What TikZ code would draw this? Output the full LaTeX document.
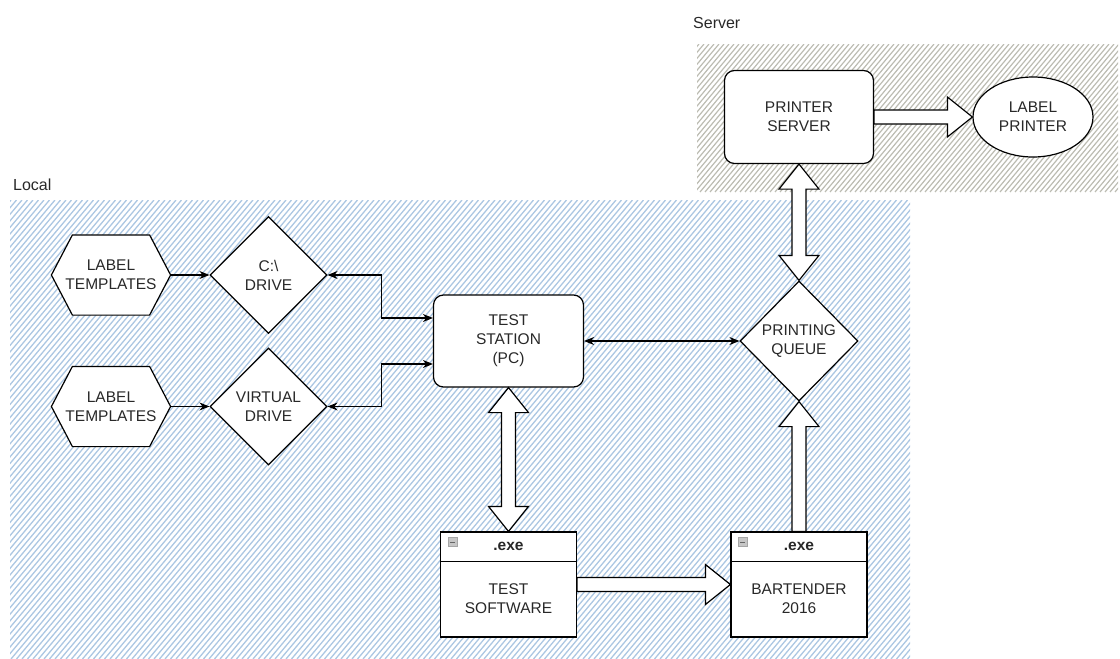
\documentclass[tikz,border=0pt]{standalone}
\usepackage{fontspec}
\setmainfont{Liberation Sans}
\usetikzlibrary{shapes.geometric,arrows.meta,calc}
\pgfdeclarelayer{hatch}
\pgfdeclarelayer{under}
\pgfsetlayers{hatch,under,main}
\definecolor{txt}{RGB}{40,40,40}
\definecolor{hblue}{RGB}{172,199,226}
\definecolor{hgray}{RGB}{188,188,178}
\newcommand{\blkVD}[2]{%
  \filldraw[blockarrow] (#1) -- ++(20,25) -- ++(-13,0) -- ($(#2)+(7,-25)$) -- ++(13,0) -- (#2)
    -- ++(-20,-25) -- ++(13,0) -- ($(#1)+(-7,25)$) -- ++(-13,0) -- cycle;}
\newcommand{\blkUp}[2]{%
  \filldraw[blockarrow] (#1) -- ++(20,25) -- ++(-13,0) -- ($(#2)+(7,0)$) -- ++(-14,0)
    -- ($(#1)+(-7,25)$) -- ++(-13,0) -- cycle;}
\newcommand{\blkRight}[2]{%
  \filldraw[blockarrow] ($(#1)+(0,-7)$) -- ($(#2)+(-25,-7)$) -- ++(0,-13) -- (#2)
    -- ++(-25,20) -- ++(0,-13) -- ($(#1)+(0,7)$) -- cycle;}
\tikzset{
  basefont/.style={font=\fontsize{15.5}{19}\selectfont},
  box/.style={draw=black, line width=1.2pt, fill=white, text=txt, align=center, basefont, inner sep=0pt},
  rbox/.style={box, rounded corners=10pt, minimum width=150pt, minimum height=92pt},
  dia/.style={box, diamond, aspect=1, minimum width=117pt, minimum height=117pt},
  hexbox/.style={box, draw=none, fill=none, minimum width=118pt, minimum height=79pt},
  exebox/.style={box, minimum width=136pt, minimum height=105pt},
  exehead/.style={text=txt, font=\bfseries\fontsize{15.5}{19}\selectfont, inner sep=0pt},
  exebody/.style={text=txt, align=center, basefont, inner sep=0pt},
  ellbox/.style={box, ellipse, minimum width=120pt, minimum height=80pt},
  hexline/.style={draw=black, line width=1.2pt, fill=white, line join=miter},
  blockarrow/.style={draw=black, line width=1.2pt, fill=white, line join=miter},
  conn/.style={draw=black, line width=1.1pt, {Stealth[length=10pt,width=8pt]}-{Stealth[length=10pt,width=8pt]}},
  conn1/.style={draw=black, line width=1.1pt, -{Stealth[length=10pt,width=8pt]}},
  region/.style={text=txt, font=\fontsize{16}{19}\selectfont, inner sep=0pt},
  icon/.style={draw=gray!70, fill=gray!45, line width=0.6pt},
}
\begin{document}
\begin{tikzpicture}[x=1pt,y=-1pt]
\useasboundingbox (0,0) rectangle (1120,659);

% hatched regions
\begin{pgfonlayer}{hatch}
  \begin{scope}
    \clip (10,200) rectangle (910,659);
    \foreach \i in {-385,-379.5,...,915} \draw[hblue, line width=1.3pt] (\i,659) -- ++(385,-459);
  \end{scope}
  \begin{scope}
    \clip (697,44) rectangle (1118,192);
    \foreach \i in {570,575,...,1120} \draw[hgray, line width=1.2pt] (\i,192) -- ++(124,-148);
  \end{scope}
\end{pgfonlayer}

% region labels
\node[region, anchor=base west] (loclbl) at (13,190) {Local};
\node[region, anchor=base west] (srvlbl) at (693,28) {Server};

% nodes
\node[hexbox] (h1) at (111,275) {LABEL\\TEMPLATES};
\node[hexbox] (h2) at (111,406.5) {LABEL\\TEMPLATES};
\node[dia] (cd) at (268.5,275) {C:\textbackslash\\DRIVE};
\node[dia] (vd) at (268.5,406.5) {VIRTUAL\\DRIVE};
\node[rbox] (ts) at (508.5,341) {TEST\\STATION\\(PC)};
\node[dia, minimum width=118pt, minimum height=120pt] (pq) at (799,341) {PRINTING\\QUEUE};
\node[rbox, minimum width=149pt, minimum height=93pt] (ps) at (799,117) {PRINTER\\SERVER};
\node[ellbox] (lp) at (1033,117) {LABEL\\PRINTER};
\node[exebox] (tsw) at (508.5,584.5) {};
\node[exebox] (bt) at (799,584.5) {};

\begin{pgfonlayer}{under}
  \foreach \h in {h1,h2}{
    \filldraw[hexline] (\h.west) -- ($(\h.north west)+(21,0)$) -- ($(\h.north east)+(-21,0)$)
      -- (\h.east) -- ($(\h.south east)+(-21,0)$) -- ($(\h.south west)+(21,0)$) -- cycle;}
\end{pgfonlayer}

% .exe boxes content
\foreach \b/\t [count=\k] in {tsw/{TEST\\SOFTWARE}, bt/{BARTENDER\\2016}}{
  \draw[line width=1.2pt] ($(\b.north west)+(0,30)$) -- ($(\b.north east)+(0,30)$);
  \filldraw[icon] ($(\b.north west)+(8,6)$) rectangle ++(9,9);
  \draw[gray!80!black, line width=0.8pt] ($(\b.north west)+(10,10.5)$) -- ++(5,0);
  \node[exehead] (\b head) at ($(\b.north)+(0,15)$) {.exe};
  \node[exebody] (\b body) at ($(\b.north)+(0,67)$) {\t};
}

% thin connectors
\draw[conn1] (h1.east) -- (cd.west);
\draw[conn1] (h2.east) -- (vd.west);
\draw[conn] (cd.east) -- ++(54,0) |- ($(ts.west)+(0,-23)$);
\draw[conn] (vd.east) -- ++(54,0) |- ($(ts.west)+(0,23)$);
\draw[conn] (ts.east) -- (pq.west);

% block arrows
\blkVD{ts.south}{tsw.north}
\blkVD{ps.south}{pq.north}
\blkUp{pq.south}{bt.north}
\blkRight{tsw.east}{bt.west}
\blkRight{ps.east}{lp.west}
\end{tikzpicture}
\end{document}
